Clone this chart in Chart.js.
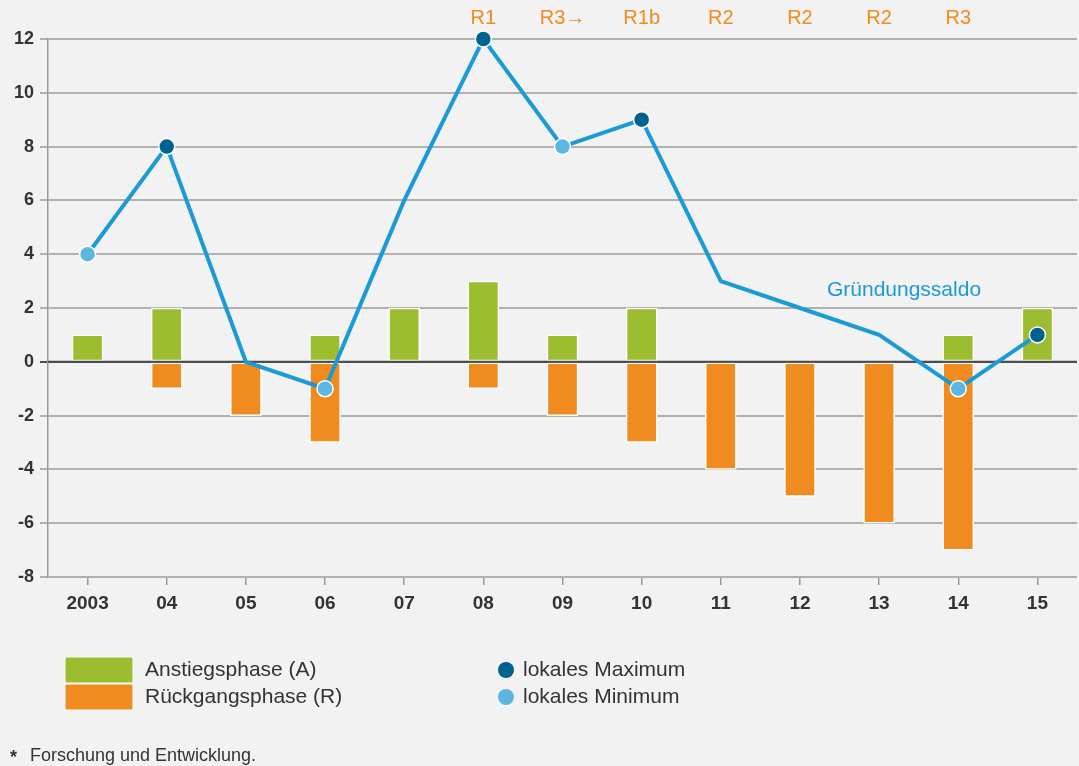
<!DOCTYPE html>
<html>
<head>
<meta charset="utf-8">
<script src="https://cdn.jsdelivr.net/npm/chart.js@4"></script>
<style>
  html, body { margin: 0; padding: 0; background: #f2f2f2; }
  #wrap { width: 1079px; height: 766px; position: relative; }
</style>
</head>
<body>
<div id="wrap"><canvas id="phaseChart" width="1079" height="766"></canvas></div>
<script>
// categories and values
const years = ["2003", "04", "05", "06", "07", "08", "09", "10", "11", "12", "13", "14", "15"];
const anstieg = [1, 2, 0, 1, 2, 3, 1, 2, 0, 0, 0, 1, 2];
const rueckgang = [0, -1, -2, -3, 0, -1, -2, -3, -4, -5, -6, -7, 0];
const saldo = [4, 8, 0, -1, 6, 12, 8, 9, 3, 2, 1, -1, 1];
const extrema = ["min", "max", null, "min", null, "max", "min", "max", null, null, null, "min", "max"];
const phaseLabels = ["", "", "", "", "", "R1", "R3\u2192", "R1b", "R2", "R2", "R2", "R3", ""];

const GREEN = "#9bbd2f";
const ORANGE = "#f08b1f";
const LINE = "#1a9ad6";
const DARK = "#00628e";
const LIGHT = "#5bb6e3";
const FONT = "'Liberation Sans', Arial, sans-serif";

// zero line sits on top of the bars but below the line
const zeroLine = {
  id: "zeroLine",
  beforeDatasetDraw(chart, args) {
    if (args.index !== 2) return;
    const { ctx, chartArea } = chart;
    const y = chart.scales.y.getPixelForValue(0);
    ctx.save();
    ctx.strokeStyle = "#4d4d4d";
    ctx.lineWidth = 2;
    ctx.beginPath();
    ctx.moveTo(chartArea.left, y);
    ctx.lineTo(chartArea.right, y);
    ctx.stroke();
    ctx.restore();
  }
};

const extras = {
  id: "extras",
  afterDraw(chart) {
    const { ctx } = chart;
    const x = chart.scales.x;
    const y = chart.scales.y;
    ctx.save();

    // phase labels above the plot
    ctx.font = "20px " + FONT;
    ctx.fillStyle = ORANGE;
    ctx.textAlign = "center";
    ctx.textBaseline = "middle";
    phaseLabels.forEach((t, i) => {
      if (t) ctx.fillText(t, x.getPixelForValue(i), 18);
    });

    // series label
    ctx.font = "21px " + FONT;
    ctx.fillStyle = LINE;
    ctx.textAlign = "left";
    ctx.fillText("Gründungssaldo", x.getPixelForValue(9) + 27, y.getPixelForValue(2.65));

    // legend
    ctx.fillStyle = GREEN;
    ctx.fillRect(65, 657, 68, 26);
    ctx.fillStyle = ORANGE;
    ctx.fillRect(65, 684, 68, 26);
    ctx.strokeStyle = "#ffffff";
    ctx.lineWidth = 1;
    ctx.strokeRect(65, 657, 68, 26);
    ctx.strokeRect(65, 684, 68, 26);

    ctx.fillStyle = "#333333";
    ctx.font = "21px " + FONT;
    ctx.fillText("Anstiegsphase (A)", 145, 670);
    ctx.fillText("Rückgangsphase (R)", 145, 697);

    [[DARK, 670, "lokales Maximum"], [LIGHT, 697, "lokales Minimum"]].forEach(([c, yy, t]) => {
      ctx.fillStyle = c;
      ctx.beginPath();
      ctx.arc(506, yy, 8, 0, Math.PI * 2);
      ctx.fill();
      ctx.fillStyle = "#333333";
      ctx.fillText(t, 523, yy);
    });

    // footnote
    ctx.font = "bold 18px " + FONT;
    ctx.fillText("*", 10, 758);
    ctx.font = "18px " + FONT;
    ctx.fillText("Forschung und Entwicklung.", 30, 756);
    ctx.restore();
  }
};

new Chart(document.getElementById("phaseChart"), {
  data: {
    labels: years,
    datasets: [
      {
        type: "bar",
        label: "Anstiegsphase (A)",
        data: anstieg,
        backgroundColor: GREEN,
        borderColor: "#ffffff",
        borderWidth: 1.5,
        borderSkipped: false,
        barThickness: 31,
        stack: "phase",
        order: 2
      },
      {
        type: "bar",
        label: "Rückgangsphase (R)",
        data: rueckgang,
        backgroundColor: ORANGE,
        borderColor: "#ffffff",
        borderWidth: 1.5,
        borderSkipped: false,
        barThickness: 31,
        stack: "phase",
        order: 2
      },
      {
        type: "line",
        label: "Gründungssaldo",
        data: saldo,
        borderColor: LINE,
        borderWidth: 4,
        tension: 0,
        clip: false,
        pointRadius: extrema.map(e => (e ? 8 : 0)),
        pointBackgroundColor: extrema.map(e => (e === "max" ? DARK : LIGHT)),
        pointBorderColor: "#ffffff",
        pointBorderWidth: 1.5,
        order: 1
      }
    ]
  },
  options: {
    responsive: false,
    animation: false,
    layout: { autoPadding: false, padding: { top: 39, right: 2, bottom: 141, left: 0 } },
    plugins: {
      legend: { display: false },
      tooltip: { enabled: false }
    },
    scales: {
      x: {
        stacked: true,
        offset: true,
        border: { display: false },
        grid: {
          offset: false,
          drawOnChartArea: false,
          drawTicks: true,
          tickLength: 8,
          color: "#999999",
          lineWidth: 1.5
        },
        ticks: {
          color: "#333333",
          padding: 7,
          font: { family: FONT, size: 19, weight: "bold" }
        },
        afterFit(scale) { scale.height = 48; }
      },
      y: {
        stacked: true,
        min: -8,
        max: 12,
        border: { display: true, color: "#999999", width: 1.5 },
        grid: {
          color: ctx => (ctx.tick && ctx.tick.value === 0 ? "#4d4d4d" : "#b0b0b0"),
          lineWidth: 2,
          tickLength: 8
        },
        ticks: {
          stepSize: 2,
          color: "#333333",
          padding: 6,
          font: { family: FONT, size: 18, weight: "bold" }
        },
        afterFit(scale) { scale.width = 48; }
      }
    }
  },
  plugins: [zeroLine, extras]
});
</script>
</body>
</html>
